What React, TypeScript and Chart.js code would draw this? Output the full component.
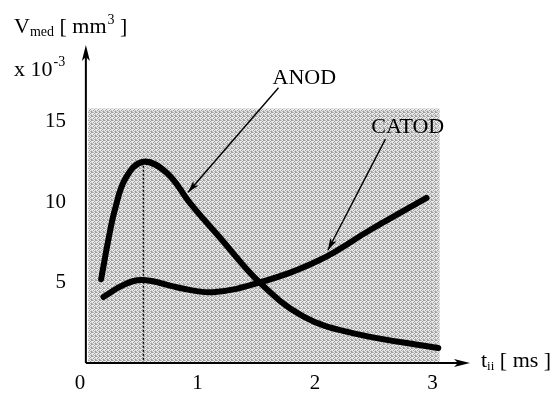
import React, { useEffect, useRef } from "react";
import { Chart, registerables } from "chart.js";
Chart.register(...registerables);

// ANOD curve (t in ms, V in 10^-3 mm^3)
const anodT = [0.18, 0.24, 0.3, 0.39, 0.54, 0.74, 0.94, 1.19, 1.53, 1.9, 2.32, 3.05];
const anodV = [5.2, 7.6, 9.6, 11.5, 12.5, 11.8, 9.9, 7.8, 5.0, 2.9, 1.86, 0.93];
// CATOD curve
const catodT = [0.2, 0.37, 0.54, 0.85, 1.13, 1.53, 2.04, 2.47, 2.95];
const catodV = [4.1, 4.85, 5.15, 4.66, 4.4, 5.0, 6.4, 8.26, 10.25];
// ticks
const xTicks = [0, 1, 2, 3];
const yTicks = [5, 10, 15];
// shaded region and peak marker
const regionT = [0.07, 3.06];
const regionV = [0, 15.8];
const peakT = 0.54;
const peakV = 12.5;
// annotation anchors (data coords)
const anodLabel = { t: 1.91, v: 17.7, fromT: 1.69, fromV: 17.1, toT: 0.92, toV: 10.6 };
const catodLabel = { t: 2.79, v: 14.66, fromT: 2.6, fromV: 13.9, toT: 2.11, toV: 7.0 };

const FONT = "Liberation Serif";

function arrowHead(ctx: CanvasRenderingContext2D, x1: number, y1: number, x2: number, y2: number, len: number, wid: number) {
  const a = Math.atan2(y2 - y1, x2 - x1);
  ctx.beginPath();
  ctx.moveTo(x2, y2);
  ctx.lineTo(x2 - len * Math.cos(a) + wid * Math.sin(a), y2 - len * Math.sin(a) - wid * Math.cos(a));
  ctx.lineTo(x2 - len * 0.75 * Math.cos(a), y2 - len * 0.75 * Math.sin(a));
  ctx.lineTo(x2 - len * Math.cos(a) - wid * Math.sin(a), y2 - len * Math.sin(a) + wid * Math.cos(a));
  ctx.closePath();
  ctx.fill();
}

export default function App() {
  const ref = useRef<HTMLCanvasElement>(null);
  useEffect(() => {
    const canvas = ref.current!;
    // halftone-like pattern
    const pc = document.createElement("canvas");
    pc.width = 4;
    pc.height = 4;
    const pctx = pc.getContext("2d")!;
    pctx.fillStyle = "#ececec";
    pctx.fillRect(0, 0, 4, 4);
    pctx.fillStyle = "#9c9c9c";
    [[0, 0], [2, 1], [1, 2], [3, 3], [3, 0]].forEach(([a, b]) => pctx.fillRect(a, b, 1, 1));
    pctx.fillStyle = "#c4c4c4";
    [[1, 0], [0, 3], [2, 3], [3, 2]].forEach(([a, b]) => pctx.fillRect(a, b, 1, 1));

    const decor = {
      id: "decor",
      beforeDatasetsDraw(chart: any) {
        const ctx = chart.ctx as CanvasRenderingContext2D;
        const xs = chart.scales.x;
        const ys = chart.scales.y;
        ctx.save();
        const pat = ctx.createPattern(pc, "repeat");
        ctx.fillStyle = pat || "#cccccc";
        const x0 = xs.getPixelForValue(regionT[0]);
        const x1 = xs.getPixelForValue(regionT[1]);
        const y0 = ys.getPixelForValue(regionV[1]);
        const y1 = ys.getPixelForValue(regionV[0]);
        ctx.fillRect(x0, y0, x1 - x0, y1 - y0);
        // dotted peak line
        ctx.strokeStyle = "#000";
        ctx.lineWidth = 1.5;
        ctx.setLineDash([2, 2]);
        ctx.beginPath();
        ctx.moveTo(xs.getPixelForValue(peakT), ys.getPixelForValue(peakV));
        ctx.lineTo(xs.getPixelForValue(peakT), ys.getPixelForValue(0));
        ctx.stroke();
        ctx.restore();
      },
      afterDatasetsDraw(chart: any) {
        const ctx = chart.ctx as CanvasRenderingContext2D;
        const xs = chart.scales.x;
        const ys = chart.scales.y;
        const area = chart.chartArea;
        const X = (v: number) => xs.getPixelForValue(v);
        const Y = (v: number) => ys.getPixelForValue(v);
        ctx.save();
        ctx.strokeStyle = "#000";
        ctx.fillStyle = "#000";
        ctx.setLineDash([]);
        // axes
        const ax = X(0.05);
        const ay = Y(0);
        ctx.lineWidth = 2;
        ctx.beginPath();
        ctx.moveTo(ax, ay);
        ctx.lineTo(ax, area.top + 8);
        ctx.moveTo(ax, ay);
        ctx.lineTo(area.right - 8, ay);
        ctx.stroke();
        arrowHead(ctx, ax, ay, ax, area.top, 16, 4);
        arrowHead(ctx, ax, ay, area.right, ay, 16, 4);
        // leader arrows
        ctx.lineWidth = 1.4;
        [anodLabel, catodLabel].forEach((l) => {
          const fx = X(l.fromT), fy = Y(l.fromV), tx = X(l.toT), ty = Y(l.toV);
          ctx.beginPath();
          ctx.moveTo(fx, fy);
          ctx.lineTo(tx, ty);
          ctx.stroke();
          arrowHead(ctx, fx, fy, tx, ty, 12, 3.5);
        });
        // labels
        ctx.textBaseline = "middle";
        ctx.textAlign = "center";
        ctx.font = `22px "${FONT}"`;
        ctx.fillText("ANOD", X(anodLabel.t), Y(anodLabel.v));
        ctx.fillText("CATOD", X(catodLabel.t), Y(catodLabel.v));
        // y title
        ctx.textAlign = "left";
        ctx.textBaseline = "alphabetic";
        let x = 14;
        ctx.font = `22px "${FONT}"`;
        ctx.fillText("V", x, 33);
        x += ctx.measureText("V").width;
        ctx.font = `14px "${FONT}"`;
        ctx.fillText("med", x, 36);
        x += ctx.measureText("med").width;
        ctx.font = `22px "${FONT}"`;
        ctx.fillText(" [ mm", x, 33);
        x += ctx.measureText(" [ mm").width;
        ctx.font = `14px "${FONT}"`;
        ctx.fillText("3", x + 1, 24);
        x += ctx.measureText("3").width + 1;
        ctx.font = `22px "${FONT}"`;
        ctx.fillText(" ]", x, 33);
        // x 10^-3
        x = 14;
        ctx.font = `22px "${FONT}"`;
        ctx.fillText("x 10", x, 76);
        x += ctx.measureText("x 10").width;
        ctx.font = `14px "${FONT}"`;
        ctx.fillText("-3", x + 1, 66);
        // x title
        x = 481;
        ctx.font = `22px "${FONT}"`;
        ctx.fillText("t", x, 367);
        x += ctx.measureText("t").width;
        ctx.font = `13px "${FONT}"`;
        ctx.fillText("ii", x, 370);
        x += ctx.measureText("ii").width;
        ctx.font = `22px "${FONT}"`;
        ctx.fillText(" [ ms ]", x, 367);
        ctx.restore();
      },
    };

    const chart = new Chart(canvas, {
      type: "line",
      data: {
        datasets: [
          {
            label: "ANOD",
            data: anodT.map((t, i) => ({ x: t, y: anodV[i] })),
            borderColor: "#000",
            borderWidth: 6,
            pointRadius: 0,
            tension: 0.4,
            borderCapStyle: "round",
            borderJoinStyle: "round",
            fill: false,
          },
          {
            label: "CATOD",
            data: catodT.map((t, i) => ({ x: t, y: catodV[i] })),
            borderColor: "#000",
            borderWidth: 6,
            pointRadius: 0,
            tension: 0.4,
            borderCapStyle: "round",
            borderJoinStyle: "round",
            fill: false,
          },
        ],
      },
      options: {
        responsive: false,
        animation: false,
        devicePixelRatio: 1,
        layout: { padding: { left: 20, right: 90, top: 45, bottom: 0 } },
        plugins: { legend: { display: false }, tooltip: { enabled: false } },
        scales: {
          x: {
            type: "linear",
            min: 0,
            max: 3.32,
            afterBuildTicks: (s: any) => {
              s.ticks = xTicks.map((v) => ({ value: v }));
            },
            afterFit: (s: any) => {
              s.height = 34;
            },
            grid: { display: false, drawTicks: false },
            border: { display: false },
            ticks: { font: { family: FONT, size: 21 }, color: "#000", padding: 8, maxRotation: 0, autoSkip: false },
          },
          y: {
            type: "linear",
            min: 0,
            max: 19.75,
            afterBuildTicks: (s: any) => {
              s.ticks = yTicks.map((v) => ({ value: v }));
            },
            afterFit: (s: any) => {
              s.width = 60;
            },
            grid: { display: false, drawTicks: false },
            border: { display: false },
            ticks: { font: { family: FONT, size: 21 }, color: "#000", padding: 14, autoSkip: false },
          },
        },
      } as any,
      plugins: [decor],
    });
    return () => chart.destroy();
  }, []);
  return (
    <div style={{ position: "fixed", left: 0, top: 0, width: 560, height: 397, background: "#fff" }}>
      <canvas ref={ref} width={560} height={397} style={{ display: "block" }} />
    </div>
  );
}
